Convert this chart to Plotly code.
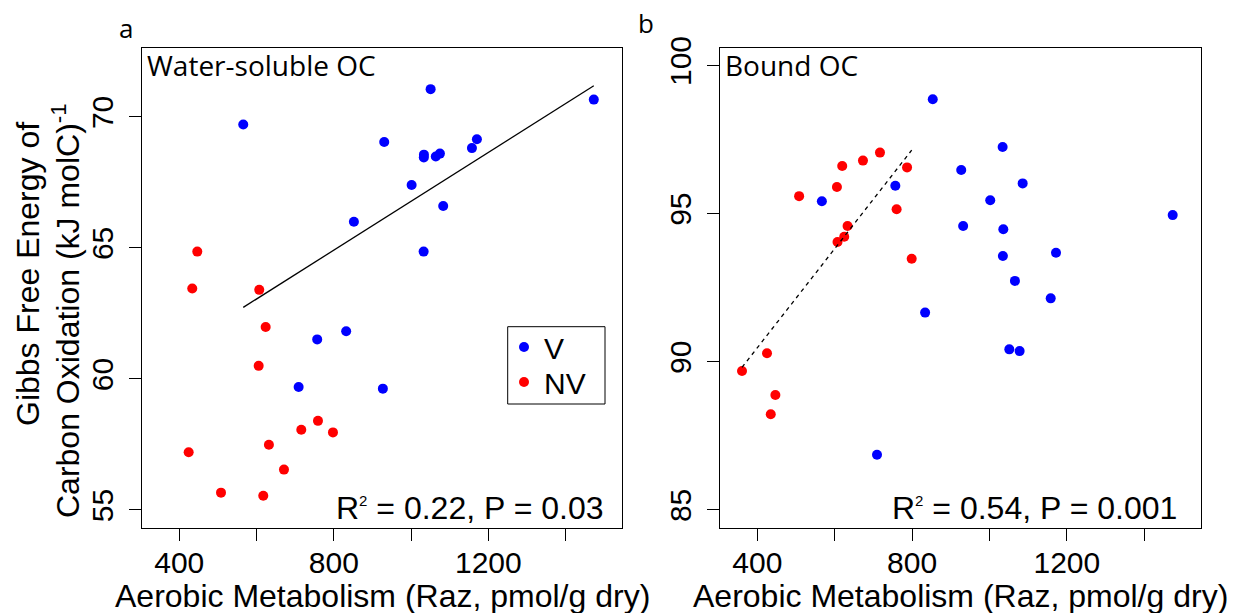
import numpy as np
import plotly.graph_objects as go

W, H = 1233, 613

# ---------------- data ----------------
# Panel a: Water-soluble OC
ws_v_x = [1050.6, 1473.0, 565.6, 930.5, 1170.4, 1157.5, 1033.3, 1033.0, 1074.7, 1064.0,
          1001.4, 1083.2, 852.0, 1032.5, 832.0, 757.0, 709.0, 927.0]
ws_v_y = [71.06, 70.66, 69.71, 69.04, 69.15, 68.81, 68.56, 68.45, 68.60, 68.49,
          67.40, 66.60, 66.00, 64.86, 61.82, 61.51, 59.69, 59.63]
ws_nv_x = [446.6, 433.6, 607.0, 623.6, 605.5, 759.0, 715.8, 797.8, 632.0, 424.3, 671.0, 508.0, 617.4]
ws_nv_y = [64.86, 63.45, 63.40, 61.98, 60.50, 58.40, 58.06, 57.96, 57.49, 57.20, 56.54, 55.66, 55.54]

# Panel b: Bound OC
bd_v_x = [853.4, 1034.0, 927.0, 1085.8, 756.7, 1002.0, 566.8, 1473.6, 932.0, 1035.8,
          1034.7, 1172.0, 1065.8, 1158.3, 833.7, 1051.3, 1078.0, 709.3]
bd_v_y = [98.86, 97.25, 96.47, 96.02, 95.94, 95.45, 95.42, 94.95, 94.58, 94.47,
          93.57, 93.68, 92.73, 92.14, 91.66, 90.42, 90.36, 86.86]
bd_nv_x = [717.0, 673.0, 619.4, 787.0, 605.7, 508.0, 760.0, 633.2, 624.6, 607.3, 799.0,
           425.0, 360.4, 446.6, 434.7]
bd_nv_y = [97.06, 96.79, 96.61, 96.56, 95.90, 95.59, 95.15, 94.58, 94.22, 94.04, 93.48,
           90.29, 89.69, 88.88, 88.23]

# regression fits (intercept, slope)
fit_a = (57.457, 0.009323)   # on V group, water-soluble
fit_b = (83.79, 0.01671)     # on NV group, bound

x_tickvals = [400, 800, 1200]
x_minorvals = [600, 1000, 1400]
ya_tickvals = [55, 60, 65, 70]
yb_tickvals = [85, 90, 95, 100]

SUP2 = "<sup><span style='font-size:15px'>2</span></sup>"
stat_a = "R" + SUP2 + " = 0.22, P = 0.03"
stat_b = "R" + SUP2 + " = 0.54, P = 0.001"

BLUE = "#0000FF"
RED = "#FF0000"
HELV = "Liberation Sans, Arial, sans-serif"
MYR = "Open Sans, sans-serif"


def px(x):
    return x / W


def py(y):
    return 1 - y / H


fig = go.Figure()

mk = dict(size=10, line=dict(width=0))
fig.add_trace(go.Scatter(x=ws_v_x, y=ws_v_y, mode="markers", name="V", legend="legend",
                         marker=dict(color=BLUE, **mk), xaxis="x", yaxis="y"))
fig.add_trace(go.Scatter(x=ws_nv_x, y=ws_nv_y, mode="markers", name="NV", legend="legend2",
                         marker=dict(color=RED, **mk), xaxis="x", yaxis="y"))
fig.add_trace(go.Scatter(x=bd_v_x, y=bd_v_y, mode="markers", name="V", showlegend=False,
                         marker=dict(color=BLUE, **mk), xaxis="x2", yaxis="y2"))
fig.add_trace(go.Scatter(x=bd_nv_x, y=bd_nv_y, mode="markers", name="NV", showlegend=False,
                         marker=dict(color=RED, **mk), xaxis="x2", yaxis="y2"))

# regression lines
xa = np.array([min(ws_v_x), max(ws_v_x)])
fig.add_trace(go.Scatter(x=xa, y=fit_a[0] + fit_a[1] * xa, mode="lines", showlegend=False,
                         line=dict(color="black", width=1.3), xaxis="x", yaxis="y", hoverinfo="skip"))
xb = np.array([min(bd_nv_x), max(bd_nv_x)])
fig.add_trace(go.Scatter(x=xb, y=fit_b[0] + fit_b[1] * xb, mode="lines", showlegend=False,
                         line=dict(color="black", width=1.3, dash="4px,4px"),
                         xaxis="x2", yaxis="y2", hoverinfo="skip"))

ax_common = dict(showline=True, linecolor="black", linewidth=1, mirror=True,
                 ticks="outside", ticklen=12, tickwidth=1, tickcolor="black",
                 showgrid=False, zeroline=False, automargin=False,
                 tickfont=dict(family=HELV, size=30, color="black"))
minor_x = dict(tickmode="array", tickvals=x_minorvals, ticks="outside", ticklen=12,
               tickwidth=1, tickcolor="black", showgrid=False)

leg_common = dict(xanchor="left", yanchor="middle", borderwidth=0,
                  bgcolor="rgba(0,0,0,0)", font=dict(family=HELV, size=30, color="black"),
                  itemwidth=30)

xrange = [303.5, 1546.0]
fig.update_layout(
    width=W, height=H, margin=dict(l=0, r=0, t=0, b=0),
    paper_bgcolor="white", plot_bgcolor="white",
    xaxis=dict(domain=[px(142), px(622)], range=xrange, tickmode="array",
               tickvals=x_tickvals, anchor="y", ticklabelstandoff=-4, minor=minor_x, **ax_common),
    yaxis=dict(domain=[py(528.3), py(48)], range=[54.30, 72.63], tickmode="array",
               tickvals=ya_tickvals, tickangle=-90, anchor="x", ticklabelstandoff=4, **ax_common),
    xaxis2=dict(domain=[px(720), px(1200.7)], range=xrange, tickmode="array",
                tickvals=x_tickvals, anchor="y2", ticklabelstandoff=-4, minor=minor_x, **ax_common),
    yaxis2=dict(domain=[py(528.3), py(48)], range=[84.38, 100.59], tickmode="array",
                tickvals=yb_tickvals, tickangle=-90, anchor="x2", ticklabelstandoff=4, **ax_common),
    showlegend=True,
    legend=dict(x=px(504), y=py(347), **leg_common),
    legend2=dict(x=px(504), y=py(382), **leg_common),
    shapes=[dict(type="rect", xref="paper", yref="paper", x0=px(507.7), x1=px(605),
                 y0=py(404), y1=py(326.7), line=dict(color="black", width=1),
                 fillcolor="rgba(0,0,0,0)", layer="below")],
)

ann = []
# panel letters
ann.append(dict(text="a", x=px(117), y=py(48), xanchor="left", yanchor="bottom",
                font=dict(family=MYR, size=26, color="black")))
ann.append(dict(text="b", x=px(636), y=py(43), xanchor="left", yanchor="bottom",
                font=dict(family=MYR, size=26, color="black")))
# panel titles
ann.append(dict(text="Water-soluble OC", x=px(145), y=py(86), xanchor="left", yanchor="bottom",
                font=dict(family=MYR, size=28, color="black")))
ann.append(dict(text="Bound OC", x=px(723), y=py(86), xanchor="left", yanchor="bottom",
                font=dict(family=MYR, size=28, color="black")))
# stats
ann.append(dict(text=stat_a, x=px(606), y=py(528), xanchor="right", yanchor="bottom",
                font=dict(family=HELV, size=32, color="black")))
ann.append(dict(text=stat_b, x=px(1179), y=py(528), xanchor="right", yanchor="bottom",
                font=dict(family=HELV, size=32, color="black")))
# x titles
for cx in [(142 + 622) / 2, (720 + 1200.7) / 2]:
    ann.append(dict(text="Aerobic Metabolism (Raz, pmol/g dry)", x=px(cx), y=py(616),
                    xanchor="center", yanchor="bottom",
                    font=dict(family=HELV, size=32, color="black")))
# y title (two lines)
ann.append(dict(text="Gibbs Free Energy of", x=px(28), y=py(274), xanchor="center",
                yanchor="middle", textangle=-90, font=dict(family=HELV, size=32, color="black")))
ann.append(dict(text="Carbon Oxidation (kJ molC)<sup>-1</sup>", x=px(66), y=py(311),
                xanchor="center", yanchor="middle", textangle=-90,
                font=dict(family=HELV, size=32, color="black")))

for a in ann:
    a.update(xref="paper", yref="paper", showarrow=False)
fig.update_layout(annotations=ann)

fig.write_html("out.html", config={"displayModeBar": False},
               post_script="document.body.style.margin='0px';")
